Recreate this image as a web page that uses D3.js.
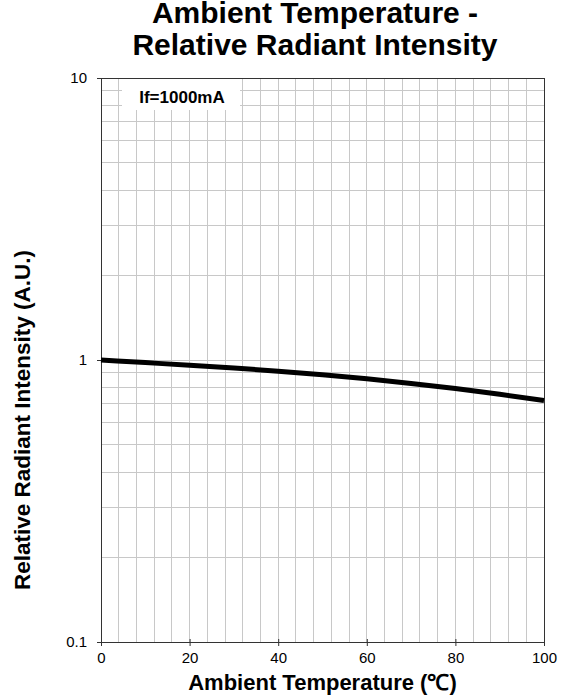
<!DOCTYPE html>
<html>
<head>
<meta charset="utf-8">
<script src="https://cdn.jsdelivr.net/npm/d3@7"></script>
<style>
  html, body { margin: 0; padding: 0; background: #fff; }
  svg { display: block; }
  text { font-family: "Liberation Sans", Arial, sans-serif; }
</style>
</head>
<body>
<svg id="chart" width="564" height="698"></svg>
<script>
// Relative radiant intensity vs. ambient temperature (If = 1000 mA)
const temperatures = [0, 10, 20, 30, 40, 50, 60, 70, 80, 90, 100];
const intensity = [1.0, 0.979, 0.958, 0.936, 0.913, 0.887, 0.858, 0.826, 0.792, 0.756, 0.719];

const xTicks = [0, 20, 40, 60, 80, 100];
const yTicks = [0.1, 1, 10];
const yTickLabels = ["0.1", "1", "10"];
const xGridStep = 4;

const titleLines = ["Ambient Temperature -", "Relative Radiant Intensity"];
const xTitle = "Ambient Temperature (\u2103)";
const yTitle = "Relative Radiant Intensity (A.U.)";
const legendText = "If=1000mA";

const W = 564, H = 698;
const m = { left: 101, right: 20, top: 78, bottom: 56 };
const pw = W - m.left - m.right, ph = H - m.top - m.bottom;

const svg = d3.select("#chart");
const g = svg.append("g").attr("transform", `translate(${m.left},${m.top})`);

const x = d3.scaleLinear().domain([0, 100]).range([0, pw]);
const y = d3.scaleLog().domain([0.1, 10]).range([ph, 0]);

// Grid: vertical every 4 °C, horizontal at log minor steps
const xGrid = d3.range(0, 100 + 1e-9, xGridStep);
g.append("g").selectAll("line").data(xGrid).join("line")
  .attr("x1", d => x(d)).attr("x2", d => x(d))
  .attr("y1", 0).attr("y2", ph)
  .attr("stroke", "#c8c8c8").attr("stroke-width", 1)
  .attr("shape-rendering", "crispEdges");

const yGrid = [];
[0.1, 1].forEach(dec => { for (let k = 1; k <= 9; k++) yGrid.push(dec * k); });
yGrid.push(10);
g.append("g").selectAll("line").data(yGrid).join("line")
  .attr("x1", 0).attr("x2", pw)
  .attr("y1", d => y(d)).attr("y2", d => y(d))
  .attr("stroke", "#c8c8c8").attr("stroke-width", 1)
  .attr("shape-rendering", "crispEdges");

// Legend box
g.append("rect")
  .attr("x", 21).attr("y", 1).attr("width", 118).attr("height", 31)
  .attr("fill", "#fff");
g.append("text")
  .attr("x", 81).attr("y", 25)
  .attr("text-anchor", "middle")
  .attr("font-size", 17).attr("font-weight", "bold")
  .text(legendText);

// Frame
g.append("rect")
  .attr("x", 0).attr("y", 0).attr("width", pw).attr("height", ph)
  .attr("fill", "none").attr("stroke", "#333").attr("stroke-width", 1)
  .attr("shape-rendering", "crispEdges");

// Axes
const xAxis = d3.axisBottom(x).tickValues(xTicks).tickSize(4).tickPadding(6).tickFormat(d3.format("d"));
const gx = g.append("g").attr("transform", `translate(0,${ph})`).call(xAxis);
gx.attr("font-size", null);
gx.select(".domain").remove();
gx.selectAll(".tick line").attr("stroke", "#333").attr("y1", -3);
gx.selectAll(".tick text").attr("font-size", 15).attr("fill", "#000")
  .attr("font-family", "'Liberation Sans', Arial, sans-serif");

const yAxis = d3.axisLeft(y).tickValues(yTicks).tickSize(4).tickPadding(10)
  .tickFormat((d, i) => yTickLabels[i]);
const gy = g.append("g").call(yAxis);
gy.attr("font-size", null);
gy.select(".domain").remove();
gy.selectAll(".tick line").attr("stroke", "#333");
gy.selectAll(".tick text").attr("font-size", 15).attr("fill", "#000")
  .attr("font-family", "'Liberation Sans', Arial, sans-serif");

// Curve
const line = d3.line().x(d => x(d[0])).y(d => y(d[1])).curve(d3.curveMonotoneX);
g.append("path")
  .datum(temperatures.map((t, i) => [t, intensity[i]]))
  .attr("d", line)
  .attr("fill", "none").attr("stroke", "#000").attr("stroke-width", 5)
  .attr("stroke-linecap", "butt");

// Titles
const tx = 315;
svg.append("text")
  .attr("x", tx).attr("y", 23)
  .attr("text-anchor", "middle").attr("font-size", 30).attr("font-weight", "bold")
  .text(titleLines[0]);
svg.append("text")
  .attr("x", tx).attr("y", 55)
  .attr("text-anchor", "middle").attr("font-size", 30).attr("font-weight", "bold")
  .text(titleLines[1]);

const cx = m.left + pw / 2;
svg.append("text")
  .attr("x", cx).attr("y", 690)
  .attr("text-anchor", "middle").attr("font-size", 22).attr("font-weight", "bold")
  .text(xTitle);

svg.append("text")
  .attr("transform", "translate(30,420) rotate(-90)")
  .attr("text-anchor", "middle").attr("font-size", 22.5).attr("font-weight", "bold")
  .text(yTitle);
</script>
</body>
</html>
